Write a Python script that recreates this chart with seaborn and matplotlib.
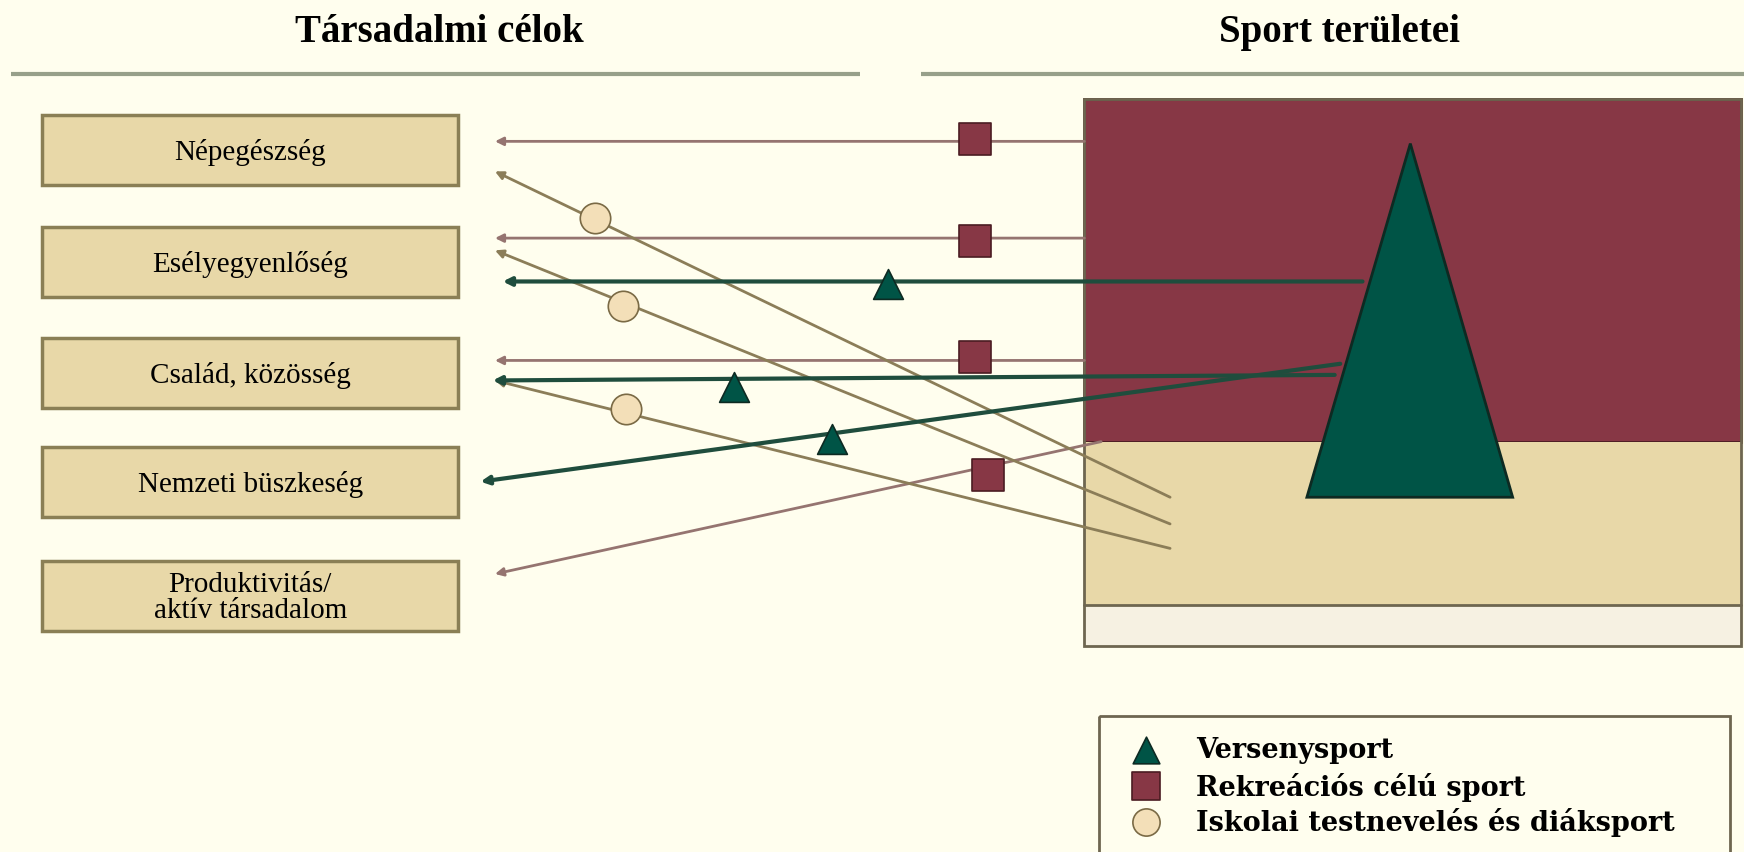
import matplotlib
matplotlib.use('Agg')
import matplotlib.pyplot as plt
import seaborn as sns
import pandas as pd
from matplotlib.patches import Rectangle, Polygon

# célok (bal oldali dobozok)
goals = ['Népegészség', 'Esélyegyenlőség', 'Család, közösség', 'Nemzeti büszkeség',
         'Produktivitás/\naktív társadalom']
goal_top = [104, 205, 305, 403, 505]

# rekreációs sport nyilai: kezdőpont, végpont, jelölő
rec_x0 = [975, 975, 975, 990]
rec_y0 = [128, 215, 325, 398]
rec_x1 = [445, 445, 445, 445]
rec_y1 = [128, 215, 325, 517]
rec_mx = [877, 877, 877, 888]
rec_my = [126, 218, 322, 428]

# versenysport nyilai
comp_x0 = [1225, 1200, 1205]
comp_y0 = [254, 338, 328]
comp_x1 = [452, 443, 432]
comp_y1 = [254, 343, 434]
comp_mx = [798, 660, 748]
comp_my = [256, 349, 396]

# iskolai sport nyilai
school_x0 = [1052, 1052, 1052]
school_y0 = [448, 472, 494]
school_x1 = [445, 445, 445]
school_y1 = [155, 226, 343]
school_mx = [535, 560, 563]
school_my = [197, 276, 369]

legend_labels = ['Versenysport', 'Rekreációs célú sport', 'Iskolai testnevelés és diáksport']

bg = '#fffeee'
maroon = '#873745'
green = '#005446'
beige = '#e8d8a8'
line_maroon = '#957470'
line_green = '#1f4d3d'
line_beige = '#8b7d58'

sns.set_style('white', {'axes.facecolor': bg, 'figure.facecolor': bg, 'text.color': 'black'})
plt.rcParams['font.family'] = ['Liberation Serif', 'DejaVu Serif']
plt.rcParams['text.color'] = 'black'

fig = plt.figure(figsize=(17.44, 8.53), dpi=100)
ax = fig.add_axes([0, 0, 1, 1])

# fejlécek
ax.text(395, 29, 'Társadalmi célok', ha='center', va='center', fontsize=28, fontweight='bold')
ax.text(1204, 29, 'Sport területei', ha='center', va='center', fontsize=28, fontweight='bold')
ax.plot([10, 773], [67, 67], color='#97a08a', lw=3, solid_capstyle='butt')
ax.plot([828, 1568], [67, 67], color='#97a08a', lw=3, solid_capstyle='butt')

# bal oldali dobozok
for lab, top in zip(goals, goal_top):
    ax.add_patch(Rectangle((38, top), 374, 63, facecolor=beige, edgecolor='#8a7f55', lw=2.5))
    ax.text(225, top + 33, lab, ha='center', va='center', fontsize=21, linespacing=1.0)

# jobb oldali nagy doboz
ax.add_patch(Rectangle((975, 90), 590, 308, facecolor=maroon, edgecolor='#4a1c22', lw=2, zorder=1))
ax.add_patch(Rectangle((975, 398), 590, 147, facecolor=beige, edgecolor='none', zorder=1))
ax.add_patch(Rectangle((975, 545), 590, 37, facecolor='#f6f1e2', edgecolor='none', zorder=1))
ax.add_patch(Rectangle((975, 90), 590, 492, facecolor='none', edgecolor='#6e6650', lw=2, zorder=1))
ax.plot([975, 1565], [545, 545], color='#6e6650', lw=2, zorder=1)
ax.add_patch(Polygon([[1268, 130], [1175, 448], [1360, 448]], closed=True,
                     facecolor=green, edgecolor='#0d2a22', lw=2, zorder=4))


def arrows(x0, y0, x1, y1, color, lw):
    for a, b, c, d in zip(x0, y0, x1, y1):
        ax.annotate('', xy=(c, d), xytext=(a, b),
                    arrowprops=dict(arrowstyle='-|>', color=color, lw=lw, mutation_scale=12,
                                    shrinkA=0, shrinkB=0), zorder=3)


arrows(rec_x0, rec_y0, rec_x1, rec_y1, line_maroon, 2)
arrows(school_x0, school_y0, school_x1, school_y1, line_beige, 2)
arrows(comp_x0, comp_y0, comp_x1, comp_y1, line_green, 3)

marks = pd.DataFrame({
    'x': rec_mx + comp_mx + school_mx,
    'y': rec_my + comp_my + school_my,
    'kind': ['rec'] * len(rec_mx) + ['comp'] * len(comp_mx) + ['school'] * len(school_mx),
})
styles = {'rec': ('s', maroon, '#4a1c22', 520),
          'comp': ('^', green, '#0d2a22', 460),
          'school': ('o', '#f3dfb8', '#7a6a45', 480)}
for k, (m, fc, ec, s) in styles.items():
    d = marks[marks['kind'] == k]
    sns.scatterplot(data=d, x='x', y='y', marker=m, color=fc, edgecolor=ec, linewidth=1.2,
                    s=s, ax=ax, zorder=5, legend=False)

# jelmagyarázat
ax.add_patch(Rectangle((988, 645), 567, 130, facecolor='none', edgecolor='#6e6650', lw=2))
leg_y = [675, 708, 740]
leg_m = ['comp', 'rec', 'school']
for lab, yy, k in zip(legend_labels, leg_y, leg_m):
    m, fc, ec, s = styles[k]
    ax.scatter([1030], [yy], marker=m, color=fc, edgecolor=ec, linewidth=1.2, s=s * 0.8, zorder=5)
    ax.text(1075, yy, lab, ha='left', va='center', fontsize=19.5, fontweight='bold',
            family='DejaVu Serif')

ax.set_xlim(0, 1568)
ax.set_ylim(767, 0)
ax.axis('off')

fig.savefig('out.png', dpi=100, facecolor=bg)
